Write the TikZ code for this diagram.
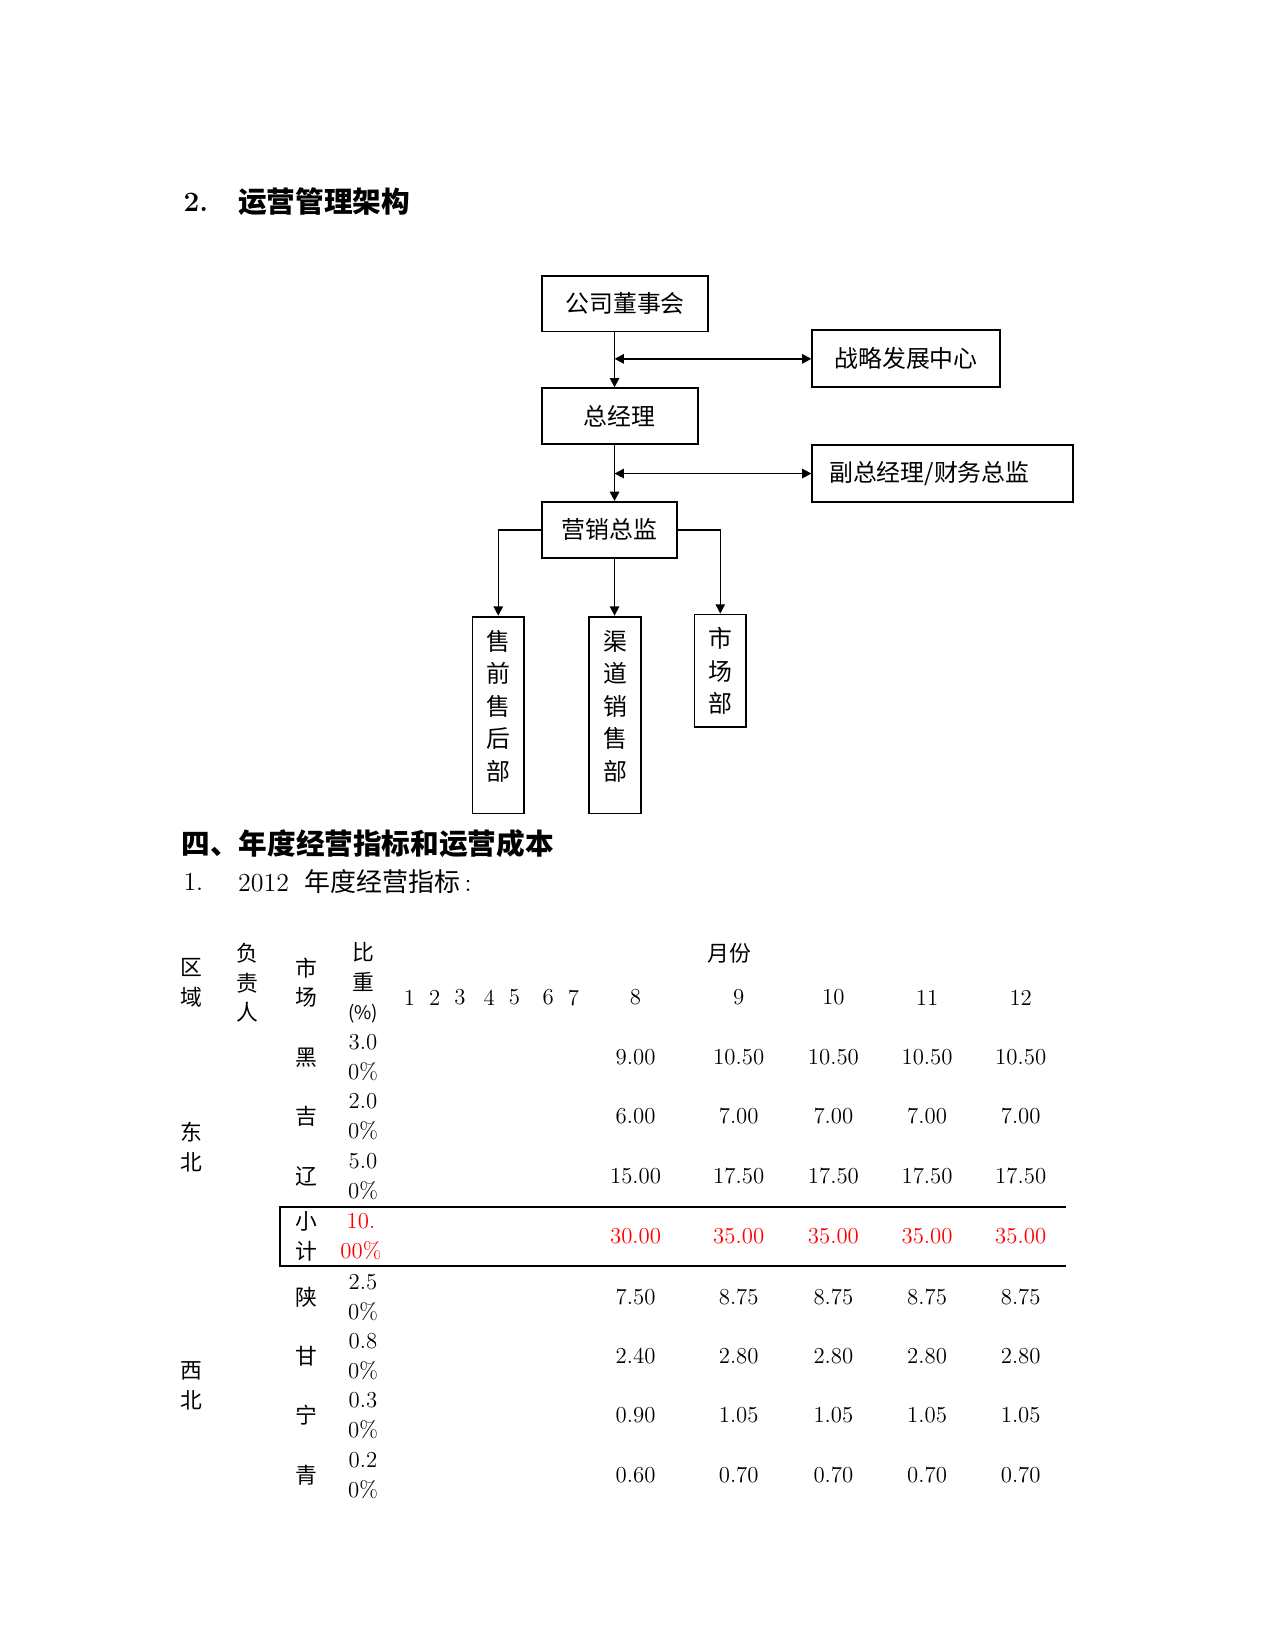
\documentclass[tikz,border=0pt]{standalone}
\usepackage{fontspec}
\newfontfamily\cjk{Noto Sans CJK SC}
\usetikzlibrary{arrows.meta,positioning,calc}
\newlength\unitpx
\setlength\unitpx{0.505bp}

\begin{document}
\begin{tikzpicture}[
    x=\unitpx, y=-\unitpx,
    sz/.style 2 args={minimum width=#1*\unitpx, minimum height=#2*\unitpx},
    box/.style={rectangle, draw, line width=0.9pt, inner sep=0pt, align=center, font=\cjk\fontsize{11.5}{15.7}\selectfont},
    arrow/.style={-{Triangle[length=4.5pt,width=4.5pt]}, line width=0.9pt},
    twoway/.style={{Triangle[length=4.5pt,width=4.5pt]}-{Triangle[length=4.5pt,width=4.5pt]}, line width=0.9pt},
    title/.style={inner sep=0pt, anchor=west, font=\cjk\bfseries\fontsize{13.8}{16}\selectfont},
    cell/.style={inner sep=0pt, align=center, font=\fontsize{11}{14.2}\selectfont},
    zh/.style={inner sep=0pt, align=center, font=\cjk\fontsize{10.5}{14.2}\selectfont},
    redcell/.style={cell, text=red}
]
    \useasboundingbox (0,0) rectangle (1212,1568);

    % headings
    \node[title, font=\bfseries\fontsize{13.5}{16}\selectfont] (sec2) at (174,192) {2.};
    \node[title] (sec2title) at (226,192) {运营管理架构};

    % org chart
    \coordinate (spine) at (584,0);
    \node[box, sz={158}{53}] (board) at (594,288.5) {公司董事会};
    \node[box, sz={178}{54}] (strategy) at (861,341) {战略发展中心};
    \node[box, sz={148}{53}] (gm) at (589,395.5) {总经理};
    \node[box, sz={248}{54}, align=left, text width=216*\unitpx] (vgm) at (896,450) {副总经理/财务总监};
    \node[box, sz={128}{53}] (mkt) at (579,503.5) {营销总监};
    \node[box, sz={49}{187}, text depth=9.5pt] (presale) at (473.5,679.5) {售\\前\\售\\后\\部};
    \node[box, sz={49}{187}, text depth=9.5pt] (channel) at (584.5,679.5) {渠\\道\\销\\售\\部};
    \node[box, sz={49}{107}] (market) at (684.5,637.5) {市\\场\\部};

    \draw[arrow] (board.south -| spine) -- (gm.north -| spine);
    \draw[arrow] (gm.south -| spine) -- (mkt.north -| spine);
    \draw[twoway] (strategy.west -| spine) -- (strategy.west);
    \draw[twoway] (vgm.west -| spine) -- (vgm.west);
    \draw[arrow, line width=0.7pt] (mkt.west) -| (presale.north);
    \draw[arrow, line width=0.7pt] (mkt.south -| spine) -- (channel.north -| spine);
    \draw[arrow, line width=0.7pt] (mkt.east) -| (market.north);

    % section 4
    \node[title] (sec4) at (172,802) {四、年度经营指标和运营成本};
    \node[cell, anchor=west, font=\fontsize{12.5}{14}\selectfont] (sub1) at (174,838) {1.};
    \node[cell, anchor=west, font=\fontsize{12.5}{14}\selectfont] (sub1title) at (226,838) {2012\hspace{0.6em}{\cjk 年度经营指标}\,:};

    % table header
    \node[zh] (h-reg) at (182,934) {区\\域};
    \node[zh] (h-owner) at (235,934) {负\\责\\人};
    \node[zh] (h-mkt) at (291,934) {市\\场};
    \node[zh] (h-pct) at (345,934) {比\\重\\{\fontsize{9}{14.2}\selectfont(\%)}};
    \node[zh] (h-month) at (693,906) {月份};
    \foreach \m/\xx in {1/389,2/413,3/437,4/465,5/489,6/521,7/545,8/604,9/702,10/792,11/881,12/970}
        \node[cell] (m-\m) at (\xx,948) {\m};

    % regions
    \node[zh] (reg-ne) at (182,1090) {东\\北};
    \node[zh] (reg-nw) at (182,1317) {西\\北};

    % data rows
    \foreach \i/\yy/\mk/\pct/\va/\vb in {1/1005/黑/3.0/9.00/10.50, 2/1061/吉/2.0/6.00/7.00,
        3/1118/辽/5.0/15.00/17.50, 5/1233/陕/2.5/7.50/8.75, 6/1289/甘/0.8/2.40/2.80,
        7/1345/宁/0.3/0.90/1.05, 8/1402/青/0.2/0.60/0.70} {
        \node[zh] (mk-\i) at (291,\yy) {\mk};
        \node[cell] (pct-\i) at (345,\yy) {\pct\\0\%};
        \node[cell] (v-\i-8) at (604,\yy) {\va};
        \foreach \m/\xx in {9/702,10/792,11/881,12/970}
            \node[cell] (v-\i-\m) at (\xx,\yy) {\vb};
    }

    % subtotal
    \draw[line width=0.6pt] (1013,1147) -- (266,1147) -- (266,1203) -- (1013,1203);
    \node[zh] (mk-4) at (291,1175) {小\\计};
    \node[redcell] (pct-4) at (343,1175) {10.\\00\%};
    \node[redcell] (v-4-8) at (604,1175) {30.00};
    \foreach \m/\xx in {9/702,10/792,11/881,12/970}
        \node[redcell] (v-4-\m) at (\xx,1175) {35.00};
\end{tikzpicture}
\end{document}
